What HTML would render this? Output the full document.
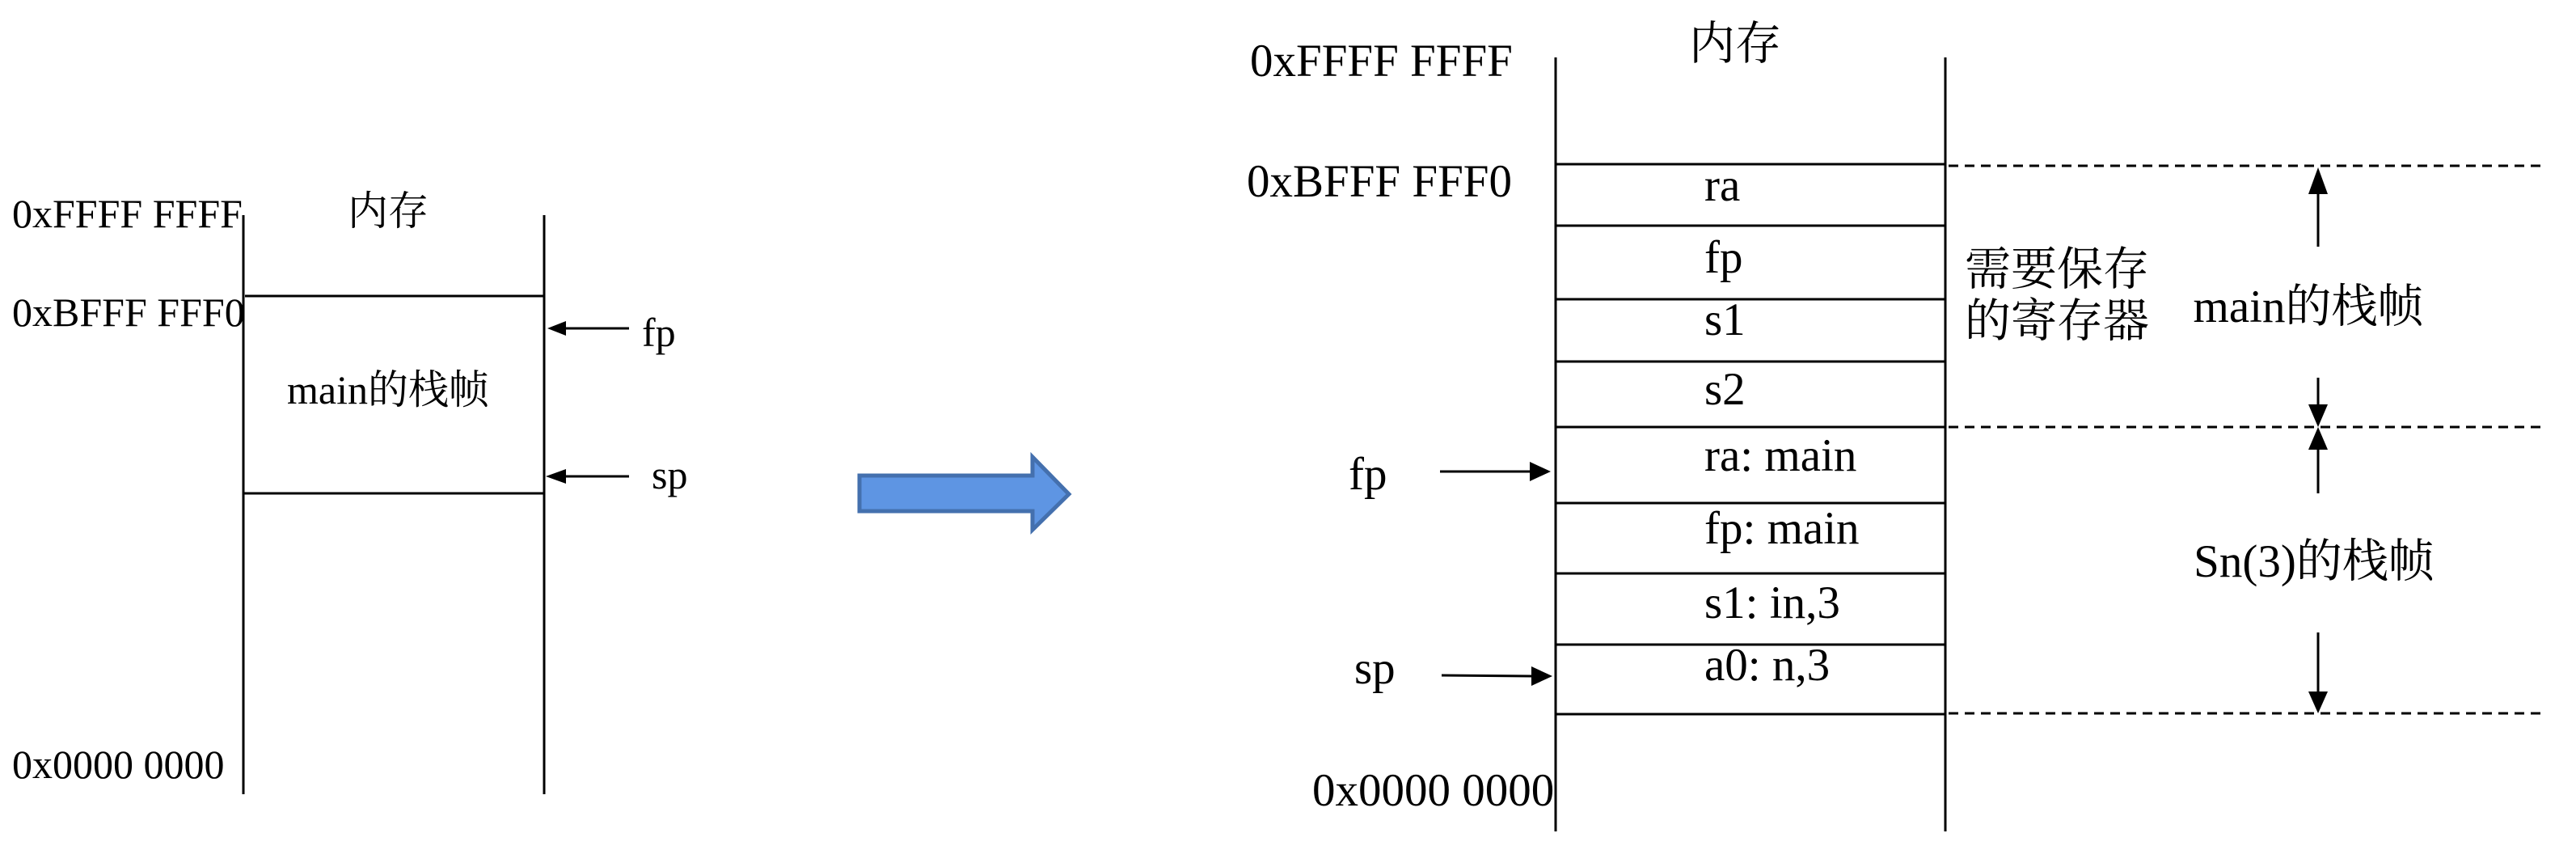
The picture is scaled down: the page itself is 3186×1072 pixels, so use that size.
<!DOCTYPE html>
<html><head><meta charset="utf-8"><style>
html,body{margin:0;padding:0;background:#fff;}
svg{display:block;}
text{font-family:"Liberation Serif","Noto Serif CJK SC","Noto Sans CJK SC",serif;fill:#000;}
</style></head><body>
<svg width="3186" height="1072" viewBox="0 0 3186 1072" xmlns="http://www.w3.org/2000/svg">
<defs>
<marker id="ah" markerWidth="10" markerHeight="10" refX="9" refY="5" orient="auto" markerUnits="userSpaceOnUse" viewBox="0 0 10 10">
</marker>
</defs>
<g stroke="#000" stroke-width="3" fill="none">
<!-- left -->
<line x1="301" y1="266" x2="301" y2="982"/>
<line x1="673" y1="266" x2="673" y2="982"/>
<line x1="303" y1="366" x2="673" y2="366"/>
<line x1="301" y1="610" x2="673" y2="610"/>
<line x1="700" y1="406" x2="778" y2="406"/>
<line x1="700" y1="589" x2="778" y2="589"/>
<!-- right -->
<line x1="1924" y1="71" x2="1924" y2="1028"/>
<line x1="2406" y1="71" x2="2406" y2="1028"/>
<line x1="1924" y1="203" x2="2406" y2="203"/>
<line x1="1924" y1="279" x2="2406" y2="279"/>
<line x1="1924" y1="370" x2="2406" y2="370"/>
<line x1="1924" y1="447" x2="2406" y2="447"/>
<line x1="1924" y1="528" x2="2406" y2="528"/>
<line x1="1924" y1="622" x2="2406" y2="622"/>
<line x1="1924" y1="709" x2="2406" y2="709"/>
<line x1="1924" y1="797" x2="2406" y2="797"/>
<line x1="1924" y1="883" x2="2406" y2="883"/>
<line x1="1781" y1="583" x2="1892" y2="583"/>
<line x1="1783" y1="835" x2="1894" y2="836"/>
<line x1="2867" y1="240" x2="2867" y2="305"/>
<line x1="2867" y1="467" x2="2867" y2="500"/>
<line x1="2867" y1="556" x2="2867" y2="610"/>
<line x1="2867" y1="782" x2="2867" y2="855"/>
</g>
<g stroke="#000" stroke-width="3" stroke-dasharray="12,8">
<line x1="2410" y1="205" x2="3146" y2="205"/>
<line x1="2410" y1="528" x2="3146" y2="528"/>
<line x1="2410" y1="882" x2="3150" y2="882"/>
</g>
<g fill="#000">
<polygon points="677,406 700,397 700,415"/>
<polygon points="675,589 700,580 700,598"/>
<polygon points="1918,583 1892,571 1892,595"/>
<polygon points="1920,836 1894,824 1894,848"/>
<polygon points="2867,207 2855,240 2879,240"/>
<polygon points="2867,528 2855,500 2879,500"/>
<polygon points="2867,528 2855,556 2879,556"/>
<polygon points="2867,882 2855,855 2879,855"/>
</g>
<polygon points="1063,588 1277,588 1277,565 1322,611 1277,655 1277,632 1063,632" fill="#5e95e3" stroke="#4470ae" stroke-width="5" stroke-linejoin="miter"/>
<g font-size="50">
<text x="15" y="281">0xFFFF FFFF</text>
<text x="15" y="403">0xBFFF FFF0</text>
<text x="15" y="962">0x0000 0000</text>
<text x="480" y="278" text-anchor="middle">内存</text>
<text x="480" y="499" text-anchor="middle">main的栈帧</text>
<text x="794" y="428">fp</text>
<text x="806" y="604">sp</text>
</g>
<g font-size="57">
<text x="1546" y="94">0xFFFF FFFF</text>
<text x="1542" y="243">0xBFFF FFF0</text>
<text x="1623" y="996">0x0000 0000</text>
<text x="2146" y="73" text-anchor="middle">内存</text>
<text x="1668" y="605">fp</text>
<text x="1675" y="845">sp</text>
<text x="2108" y="248">ra</text>
<text x="2108" y="337">fp</text>
<text x="2108" y="414">s1</text>
<text x="2108" y="500">s2</text>
<text x="2108" y="582">ra: main</text>
<text x="2108" y="672">fp: main</text>
<text x="2108" y="764">s1: in,3</text>
<text x="2108" y="841">a0: n,3</text>
<text x="2430" y="352">需要保存</text>
<text x="2430" y="416">的寄存器</text>
<text x="2855" y="398" text-anchor="middle">main的栈帧</text>
<text x="2862" y="713" text-anchor="middle">Sn(3)的栈帧</text>
</g>
</svg>
</body></html>
